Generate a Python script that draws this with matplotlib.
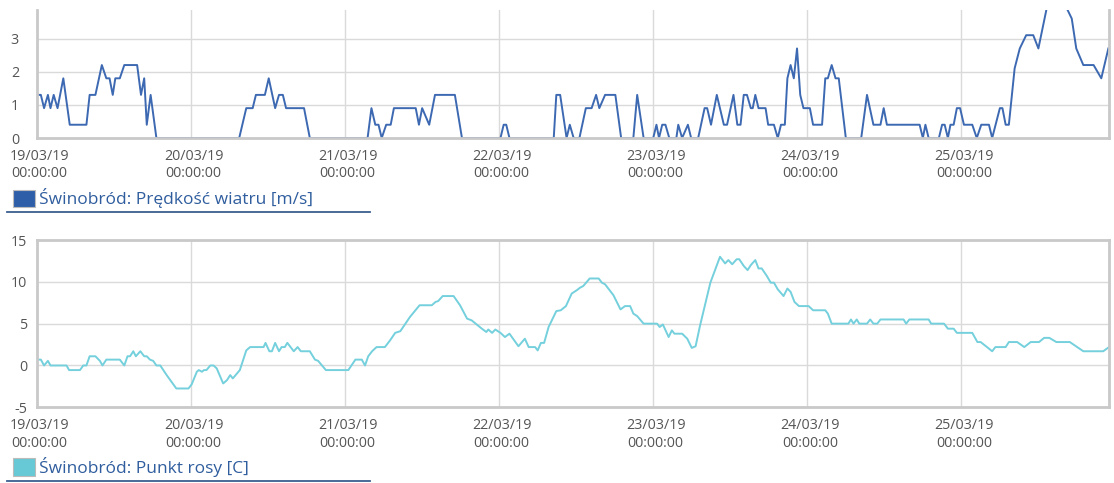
import numpy as np
import matplotlib
matplotlib.use("Agg")
import matplotlib.pyplot as plt
from matplotlib.patches import Rectangle
from matplotlib.lines import Line2D
from matplotlib.transforms import ScaledTranslation

plt.rcParams['font.family'] = ['Open Sans', 'DejaVu Sans']
plt.rcParams['axes.unicode_minus'] = False

# ---------------- data ----------------
start = np.datetime64('2019-03-19T00:00')
day_ticks = ['19/03/19', '20/03/19', '21/03/19', '22/03/19', '23/03/19', '24/03/19', '25/03/19']

wind_hours = [0.1, 0.6, 1.1, 1.7, 2.1, 2.6, 3.2, 4.1, 5.1, 7.7, 8.2, 9.1, 10.1, 10.8, 11.3, 11.8, 12.2,
              12.9, 13.6, 15.6, 16.2, 16.7, 17.1, 17.7, 18.6, 31.5, 32.6, 33.6, 34.1, 35.5, 36.1, 37.1,
              37.7, 38.3, 38.8, 41.6, 42.5, 51.5, 52.1, 52.7, 53.2, 53.7, 54.4, 55.1, 55.6, 59.0, 59.5,
              60.0, 61.1, 62.0, 65.1, 66.2, 72.2, 72.7, 73.1, 73.6, 80.5, 80.9, 81.5, 82.5, 83.0, 83.6,
              84.5, 85.5, 86.4, 87.1, 87.6, 88.5, 90.1, 91.0, 92.9, 93.5, 94.5, 96.0, 96.5, 96.9, 97.4,
              97.9, 98.5, 99.6, 99.9, 100.5, 101.4, 101.9, 103.0, 104.0, 104.4, 105.0, 105.9, 107.0,
              107.5, 108.5, 109.1, 109.6, 110.1, 110.6, 111.2, 111.5, 111.9, 112.4, 113.5, 113.9, 114.8,
              115.4, 115.9, 116.5, 116.9, 117.4, 117.9, 118.4, 118.9, 119.4, 120.4, 120.9, 122.3, 122.8,
              123.2, 123.8, 124.4, 124.9, 126.0, 128.4, 129.3, 130.3, 131.4, 131.9, 132.4, 137.5, 138.0,
              138.4, 138.9, 140.5, 141.0, 141.4, 141.9, 142.3, 142.8, 143.3, 143.8, 144.4, 145.7, 146.4,
              147.1, 148.3, 148.8, 150.0, 150.4, 150.9, 151.4, 152.3, 153.1, 154.1, 155.2, 156.0, 157.6,
              159.0, 160.2, 161.2, 161.9, 163.0, 164.6, 165.8, 166.9]
wind_vals = [1.3, 1.3, 0.9, 1.3, 0.9, 1.3, 0.9, 1.8, 0.4, 0.4, 1.3, 1.3, 2.2, 1.8, 1.8, 1.3, 1.8,
             1.8, 2.2, 2.2, 1.3, 1.8, 0.4, 1.3, 0.0, 0.0, 0.9, 0.9, 1.3, 1.3, 1.8, 0.9,
             1.3, 1.3, 0.9, 0.9, 0.0, 0.0, 0.9, 0.4, 0.4, 0.0, 0.4, 0.4, 0.9, 0.9, 0.4,
             0.9, 0.4, 1.3, 1.3, 0.0, 0.0, 0.4, 0.4, 0.0, 0.0, 1.3, 1.3, 0.0, 0.4, 0.0,
             0.0, 0.9, 0.9, 1.3, 0.9, 1.3, 1.3, 0.0, 0.0, 1.3, 0.0, 0.0, 0.4, 0.0, 0.4,
             0.4, 0.0, 0.0, 0.4, 0.0, 0.4, 0.0, 0.0, 0.9, 0.9, 0.4, 1.3, 0.4,
             0.4, 1.3, 0.4, 0.4, 1.3, 1.3, 0.9, 0.9, 1.3, 0.9, 0.9, 0.4, 0.4,
             0.0, 0.4, 0.4, 1.8, 2.2, 1.8, 2.7, 1.3, 0.9, 0.9, 0.4, 0.4, 1.8,
             1.8, 2.2, 1.8, 1.8, 0.0, 0.0, 1.3, 0.4, 0.4, 0.9, 0.4, 0.4, 0.0,
             0.4, 0.0, 0.0, 0.4, 0.4, 0.0, 0.4, 0.4, 0.9, 0.9, 0.4, 0.4, 0.0,
             0.4, 0.4, 0.0, 0.9, 0.9, 0.4, 0.4, 2.1, 2.7, 3.1, 3.1, 2.7, 4.2,
             4.4, 4.0, 3.6, 2.7, 2.2, 2.2, 1.8, 2.7]

dew_hours = [0.1, 0.6, 1.1, 1.7, 2.1, 4.6, 5.0, 6.7, 7.2, 7.7, 8.2, 9.1, 9.8, 10.2, 10.8, 12.9, 13.6,
             14.1, 14.5, 15.0, 15.4, 16.1, 16.7, 17.1, 17.6, 18.1, 18.6, 19.2, 20.2, 21.7, 23.6, 24.1,
             24.9, 25.2, 25.7, 26.0, 26.4, 27.0, 27.5, 28.0, 29.0, 29.6, 30.1, 30.5, 31.1, 31.6, 32.6,
             33.2, 35.3, 35.6, 36.2, 36.6, 37.1, 37.7, 38.1, 38.6, 39.0, 39.5, 40.0, 40.6, 41.1, 42.5,
             43.3, 43.8, 45.0, 48.5, 49.6, 50.6, 51.1, 51.6, 52.2, 52.9, 54.2, 55.0, 55.8, 56.6, 57.3,
             58.1, 59.6, 61.5, 62.1, 62.5, 63.2, 64.9, 65.9, 67.0, 67.7, 68.5, 69.3, 70.0, 70.3, 70.9,
             71.4, 72.2, 72.9, 73.6, 75.0, 76.0, 76.6, 77.6, 78.0, 78.5, 79.0, 79.7, 80.9, 81.6, 82.4,
             83.3, 84.1, 84.6, 85.1, 86.1, 87.5, 88.0, 88.5, 89.8, 90.9, 91.6, 92.4, 92.9, 93.5, 94.5,
             96.6, 97.0, 97.5, 98.4, 98.9, 99.3, 100.5, 101.3, 102.0, 102.6, 103.3, 104.9, 106.4, 107.2,
             107.7, 108.3, 109.0, 109.4, 110.1, 110.7, 111.2, 111.9, 112.4, 112.9, 113.7, 114.3, 114.8,
             115.4, 116.3, 116.9, 117.4, 118.0, 118.7, 120.2, 120.9, 122.8, 123.2, 123.8, 126.4, 126.8,
             127.2, 127.7, 128.1, 129.3, 129.8, 130.3, 130.9, 131.4, 135.0, 135.4, 135.9, 138.9, 139.3,
             141.3, 141.9, 142.8, 143.3, 145.7, 146.5, 147.0, 148.0, 148.8, 149.3, 150.9, 151.4, 152.7,
             153.8, 154.8, 156.1, 156.9, 157.7, 158.8, 160.9, 163.0, 166.1, 167.0]
dew_vals = [0.7, 0.7, 0.0, 0.55, 0.0, 0.0, -0.55, -0.55, 0.0, 0.0, 1.1, 1.1, 0.55, 0.0, 0.7, 0.7, 0.0,
            1.1, 1.1, 1.7, 1.1, 1.7, 1.1, 1.1, 0.7, 0.55, 0.0, 0.0, -1.15, -2.75, -2.75, -2.25,
            -0.75, -0.55, -0.75, -0.55, -0.55, 0.0, 0.0, -0.35, -2.15, -1.75, -1.15, -1.55, -1.0, -0.55, 1.8,
            2.2, 2.2, 2.7, 1.7, 1.7, 2.7, 1.7, 2.2, 2.2, 2.7, 2.2, 1.7, 2.2, 1.7, 1.7,
            0.7, 0.55, -0.55, -0.55, 0.7, 0.7, 0.0, 1.1, 1.7, 2.2, 2.2, 3.0, 3.9, 4.1, 4.9,
            5.8, 7.2, 7.2, 7.6, 7.7, 8.3, 8.3, 7.2, 5.6, 5.4, 4.9, 4.4, 4.0, 4.3, 3.9,
            4.3, 3.9, 3.4, 3.8, 2.3, 3.2, 2.2, 2.2, 1.8, 2.7, 2.7, 4.6, 6.5, 6.6, 7.1,
            8.6, 9.0, 9.3, 9.5, 10.4, 10.4, 9.9, 9.7, 8.4, 6.7, 7.1, 7.1, 6.2, 5.9, 5.0,
            5.0, 4.6, 4.9, 3.4, 4.2, 3.8, 3.8, 3.2, 2.1, 2.3, 4.8, 9.9, 13.0, 12.2,
            12.6, 12.1, 12.7, 12.7, 11.9, 11.4, 12.0, 12.6, 11.6, 11.6, 10.7, 9.9, 9.9,
            9.1, 8.3, 9.2, 8.8, 7.6, 7.1, 7.1, 6.6, 6.6, 6.2, 5.0, 5.0, 5.5,
            5.0, 5.5, 5.0, 5.0, 5.5, 5.0, 5.0, 5.5, 5.5, 5.0, 5.5, 5.5, 5.0,
            5.0, 4.4, 4.4, 3.9, 3.9, 2.8, 2.8, 2.2, 1.7, 2.2, 2.2, 2.8, 2.8,
            2.2, 2.8, 2.8, 3.3, 3.3, 2.8, 2.8, 1.7, 1.7, 2.2]

wind_label = 'Świnobród: Prędkość wiatru [m/s]'
dew_label = 'Świnobród: Punkt rosy [C]'

# ---------------- styles ----------------
W, H = 1114, 483
WIND_COLOR = '#3d69b2'
DEW_COLOR = '#74d0dc'
GRID = '#dadada'
BORDER = '#c9c9c9'
TICK_TXT = '#555555'
LEG_TXT = '#2f5d9e'


def to_time(hours):
    return start + (np.asarray(hours) * 60).round().astype('timedelta64[m]')


def fx(x):
    return x / W


def fy(y):
    return 1 - y / H


fig = plt.figure(figsize=(W / 100, H / 100), dpi=100)

x_end = start + np.timedelta64(167 * 60, 'm')
tick_pos = start + np.arange(len(day_ticks)) * np.timedelta64(1, 'D')
tick_lbl = [d + '\n00:00:00' for d in day_ticks]
shift = ScaledTranslation(2.5 / 100, 0, fig.dpi_scale_trans)


def style_axes(ax, ypad):
    ax.set_xlim(start, x_end)
    ax.set_xticks(tick_pos)
    ax.set_xticklabels(tick_lbl, fontsize=10.3, color=TICK_TXT, linespacing=1.2)
    ax.tick_params(axis='x', length=0, pad=8)
    ax.tick_params(axis='y', length=0, pad=ypad, labelsize=10.3, labelcolor=TICK_TXT)
    for lbl in ax.get_xticklabels():
        lbl.set_transform(lbl.get_transform() + shift)
    ax.grid(True, color=GRID, linewidth=1.0)
    ax.set_axisbelow(True)
    for s in ax.spines.values():
        s.set_color(BORDER)
        s.set_linewidth(2.0)


# top chart
ax1 = fig.add_axes([fx(37), fy(138), fx(1109) - fx(37), (138 - 10) / H])
ax1.plot(to_time(wind_hours), wind_vals, color=WIND_COLOR, linewidth=1.4)
ax1.set_ylim(0, 3.86)
ax1.set_yticks([0, 1, 2, 3])
style_axes(ax1, 13)
ax1.spines['top'].set_visible(False)

# bottom chart
ax2 = fig.add_axes([fx(37), fy(407.3), fx(1109) - fx(37), (407.3 - 240) / H])
ax2.plot(to_time(dew_hours), dew_vals, color=DEW_COLOR, linewidth=1.4)
ax2.set_ylim(-5, 15)
ax2.set_yticks([-5, 0, 5, 10, 15])
style_axes(ax2, 7)


# legends
def legend(y_top, y_bot, color, label, y_line):
    fig.patches.append(Rectangle((fx(13), fy(y_bot)), fx(35) - fx(13), (y_bot - y_top) / H,
                                 transform=fig.transFigure, facecolor=color,
                                 edgecolor='#bbbbbb', linewidth=0.8))
    fig.text(fx(39), fy((y_top + y_bot) / 2), label, fontsize=12.5, color=LEG_TXT,
             va='center', ha='left')
    fig.lines.append(Line2D([fx(7), fx(370)], [fy(y_line), fy(y_line)],
                            transform=fig.transFigure, color='#3a5f8f', linewidth=1.3))


legend(190, 207, '#2f5ea9', wind_label, 211.5)
legend(458, 476, '#66c9d5', dew_label, 481)

fig.savefig('out.png', dpi=100)
